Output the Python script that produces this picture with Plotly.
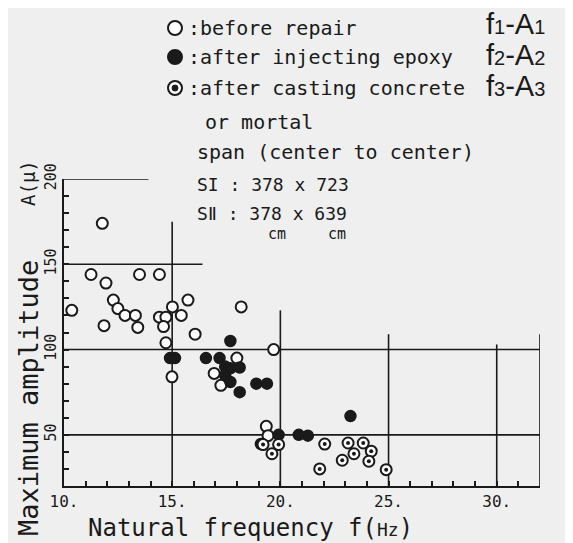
import plotly.graph_objects as go

# ---- data ----
f_before = [10.36, 11.77, 11.25, 11.94, 12.28, 12.49, 12.82, 13.30, 13.41, 11.85,
            13.49, 14.41, 14.41, 14.71, 15.01, 14.60, 14.71, 15.42, 15.73, 16.06,
            18.19, 19.69, 17.99, 14.99, 16.94, 17.25, 19.35, 19.43]
A_before = [123, 174, 144, 139, 129, 124, 120, 120, 113, 114,
            144, 144, 119, 119, 125, 113.5, 104, 120, 129, 109,
            125, 100, 95, 84, 86, 79, 55, 49.5]

f_epoxy = [17.69, 14.90, 15.13, 16.56, 17.19, 17.45, 17.69, 18.12, 17.45, 17.69,
           18.12, 18.89, 19.38, 19.92, 19.10, 20.85, 21.27, 23.24]
A_epoxy = [105, 95, 95, 95, 95, 90, 89, 89.5, 85, 81,
           75, 80, 80, 50, 44.6, 50, 49.5, 61]

f_concrete = [19.20, 19.92, 19.61, 22.05, 23.13, 23.83, 24.20, 23.40, 22.86, 24.09, 21.82, 24.89]
A_concrete = [44.3, 44.3, 38.9, 44.6, 45.2, 45.2, 40.4, 38.9, 35.1, 34.5, 30.0, 29.6]

x_tickvals = [10, 15, 20, 25, 30]
x_ticktext = ["10.", "15.", "20.", "25.", "30."]
y_tickvals = [50, 100, 150, 200]
y_ticktext = ["50", "100", "150", "200"]

INK = "#1a1a1a"
BG = "#efefef"
MONO = "DejaVu Sans Mono"

fig = go.Figure()
fig.add_trace(go.Scatter(x=f_before, y=A_before, mode="markers", name="before repair",
                         marker=dict(symbol="circle", size=11, color="white",
                                     line=dict(color=INK, width=2))))
fig.add_trace(go.Scatter(x=f_epoxy, y=A_epoxy, mode="markers", name="after injecting epoxy",
                         marker=dict(symbol="circle", size=11, color=INK,
                                     line=dict(color=INK, width=1.5))))
fig.add_trace(go.Scatter(x=f_concrete, y=A_concrete, mode="markers",
                         name="after casting concrete or mortal",
                         marker=dict(symbol="circle", size=11, color="white",
                                     line=dict(color=INK, width=2))))
fig.add_trace(go.Scatter(x=f_concrete, y=A_concrete, mode="markers", hoverinfo="skip",
                         marker=dict(symbol="circle", size=4, color=INK, line=dict(width=0))))

# frame pieces and partial grid lines
line = dict(color=INK, width=1.6)
segs = [
    (32, 20, 32, 109),     # right axis
    (10, 200, 13.9, 200),  # top short line
    (10, 150, 16.4, 150),
    (10, 100, 32, 100),
    (10, 50, 32, 50),
    (15, 20, 15, 175),
    (20, 20, 20, 123),
    (25, 20, 25, 109),
    (30, 20, 30, 103),
]
for x0, y0, x1, y1 in segs:
    fig.add_shape(type="line", x0=x0, y0=y0, x1=x1, y1=y1, xref="x", yref="y",
                  line=line, layer="below")

# page is offset by the 8px body margin
OFF = 8
W, H = 565, 535
L, T = 64 - OFF, 179 - OFF
R = W - (540 - OFF)
B = H - (486 - OFF)
pw, ph = W - L - R, H - T - B

def px(x):
    return (x - OFF - L) / pw

def py(y):
    return (H - B - (y - OFF)) / ph

# legend symbols
for yy, fill, dot in [(28, "white", False), (57, INK, False), (88, "white", True)]:
    fig.add_shape(type="circle", xref="paper", yref="paper", xsizemode="pixel", ysizemode="pixel",
                  xanchor=px(175), yanchor=py(yy), x0=-7, x1=7, y0=-7, y1=7,
                  line=dict(color=INK, width=2), fillcolor=fill)
    if dot:
        fig.add_shape(type="circle", xref="paper", yref="paper", xsizemode="pixel", ysizemode="pixel",
                      xanchor=px(175), yanchor=py(yy), x0=-3, x1=3, y0=-3, y1=3,
                      line=dict(color=INK, width=1), fillcolor=INK)

def txt(x, y, s, size=20, family=MONO, xanchor="left"):
    fig.add_annotation(x=px(x), y=py(y), xref="paper", yref="paper", text=s, showarrow=False,
                       xanchor=xanchor, yanchor="middle", font=dict(family=family, size=size, color=INK))

txt(186, 28, ":before repair")
txt(186, 57, ":after injecting epoxy")
txt(186, 88, ":after casting concrete")
txt(203, 122, "or mortal")
txt(195, 152, "span (center to center)")
txt(195, 184, "SI : 378 x 723", size=18)
txt(195, 213, "SⅡ : 378 x 639", size=18)
txt(277, 234, "cm", size=15, xanchor="center")
txt(337, 234, "cm", size=15, xanchor="center")
sub = "<span style='font-size:20px'>%s</span>"
for yy, k in [(24, "1"), (55, "2"), (86, "3")]:
    txt(484, yy, "f" + sub % k + "-A" + sub % k, size=29, family="Liberation Sans")

# axis titles
fig.add_annotation(x=px(28), y=py(398), xref="paper", yref="paper", text="Maximum amplitude",
                   textangle=-90, showarrow=False, xanchor="center", yanchor="middle",
                   font=dict(family=MONO, size=27, color=INK))
fig.add_annotation(x=px(28), y=py(183), xref="paper", yref="paper", text="A(μ)",
                   textangle=-90, showarrow=False, xanchor="center", yanchor="middle",
                   font=dict(family=MONO, size=19, color=INK))
fig.add_annotation(x=px(250), y=py(528), xref="paper", yref="paper",
                   text="Natural frequency f(<span style='font-size:18px'>Hz</span>)",
                   showarrow=False, xanchor="center", yanchor="middle",
                   font=dict(family=MONO, size=24, color=INK))

fig.update_xaxes(range=[10, 32], tickvals=x_tickvals, ticktext=x_ticktext, ticks="inside",
                 ticklen=5, tickwidth=1.5, tickcolor=INK, showline=True, linecolor=INK, linewidth=2,
                 showgrid=False, zeroline=False,
                 minor=dict(dtick=1, tick0=10, ticks="inside", ticklen=5, tickwidth=1.5, tickcolor=INK),
                 tickfont=dict(family=MONO, size=16, color=INK))
fig.update_yaxes(range=[20, 200], tickvals=y_tickvals, ticktext=y_ticktext, ticks="inside",
                 ticklen=5, tickwidth=1.5, tickcolor=INK, tickangle=-90,
                 showline=True, linecolor=INK, linewidth=2, showgrid=False, zeroline=False,
                 minor=dict(dtick=10, tick0=20, ticks="inside", ticklen=5, tickwidth=1.5, tickcolor=INK),
                 tickfont=dict(family=MONO, size=15, color=INK))

fig.update_layout(width=W, height=H, margin=dict(l=L, r=R, t=T, b=B, pad=0),
                  paper_bgcolor=BG, plot_bgcolor=BG, showlegend=False)

fig.write_html("out.html")
